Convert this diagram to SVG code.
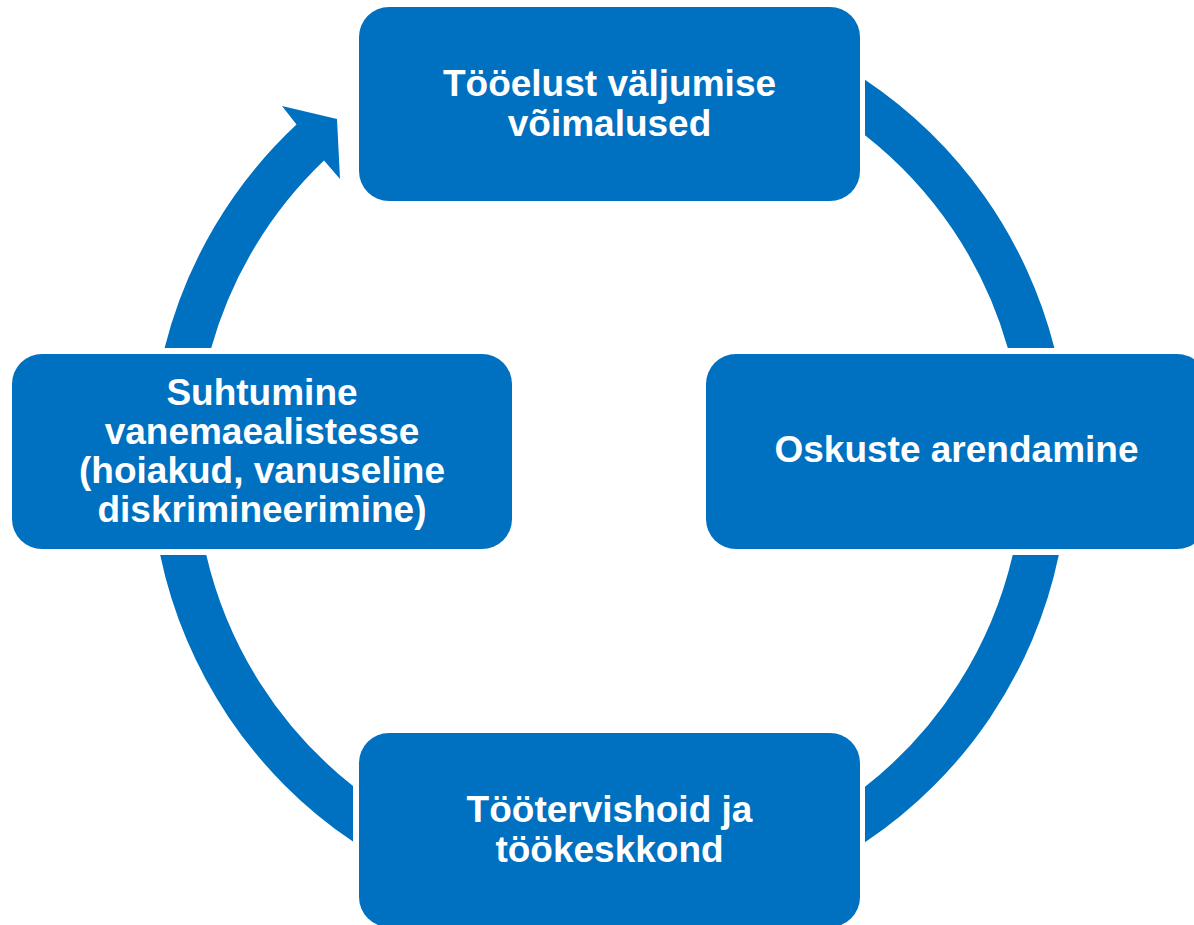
<svg xmlns="http://www.w3.org/2000/svg" width="1194" height="925" viewBox="0 0 1194 925">
  <style>
    .ring { fill: #0070C0; }
    .box { fill: #0070C0; stroke: #FFFFFF; stroke-width: 8; paint-order: stroke; }
    .lbl { fill: #FFFFFF; font-family: "Liberation Sans", Arial, sans-serif; font-weight: bold; font-size: 37px; text-anchor: middle; }
  </style>
  <rect x="0" y="0" width="1194" height="925" fill="#FFFFFF"/>
  <g id="connectors">
    <path class="ring" d="M865,79.7 A459,459 0 0 1 1054.4,348 L1007.8,348 A414,414 0 0 0 865,135.2 Z"/>
    <path class="ring" d="M1058.8,555 A459,459 0 0 1 865,842.3 L865,786.8 A414,414 0 0 0 1012.7,555 Z"/>
    <path class="ring" d="M353,841.6 A459,459 0 0 1 160.2,555 L206.3,555 A414,414 0 0 0 353,786 Z"/>
    <path class="ring" d="M164.6,348 A459,459 0 0 1 296.5,124.5 L282,106 L337,119 L340,179 L324,160.5 A414,414 0 0 0 211.2,348 Z"/>
  </g>
  <g id="node-top">
    <rect class="box" x="359" y="7" width="501" height="194" rx="30" ry="30"/>
    <text class="lbl" x="609.5" y="96">Tööelust väljumise</text>
    <text class="lbl" x="609.5" y="135.5">võimalused</text>
  </g>
  <g id="node-right">
    <rect class="box" x="706" y="354" width="501" height="195" rx="30" ry="30"/>
    <text class="lbl" x="956.5" y="462">Oskuste arendamine</text>
  </g>
  <g id="node-bottom">
    <rect class="box" x="359" y="733" width="501" height="194" rx="30" ry="30"/>
    <text class="lbl" x="609.5" y="822">Töötervishoid ja</text>
    <text class="lbl" x="609.5" y="861.5">töökeskkond</text>
  </g>
  <g id="node-left">
    <rect class="box" x="12" y="354" width="500" height="195" rx="30" ry="30"/>
    <text class="lbl" x="262" y="405">Suhtumine</text>
    <text class="lbl" x="262" y="444">vanemaealistesse</text>
    <text class="lbl" x="262" y="483">(hoiakud, vanuseline</text>
    <text class="lbl" x="262" y="522">diskrimineerimine)</text>
  </g>
</svg>
